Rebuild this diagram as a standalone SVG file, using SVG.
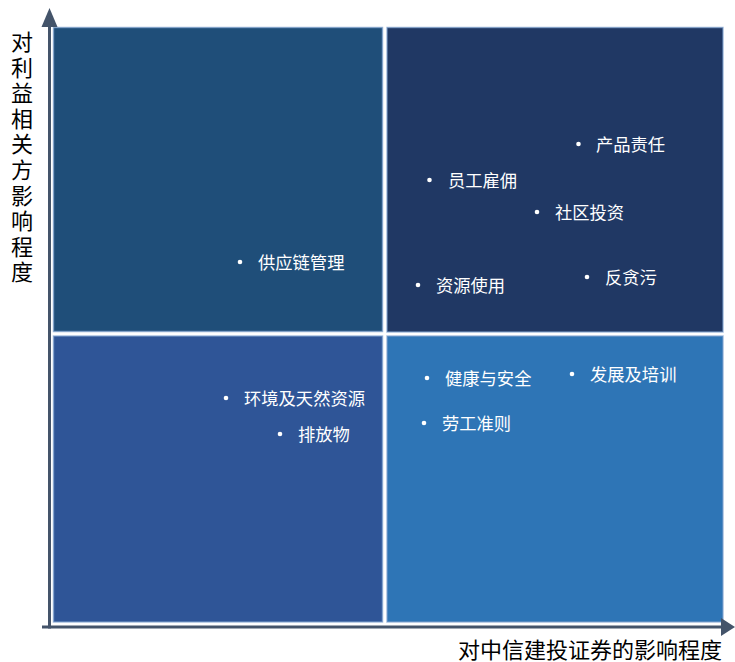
<svg xmlns="http://www.w3.org/2000/svg" width="735" height="662" viewBox="0 0 735 662">
<style>
.q{stroke:#7fa3cf;stroke-opacity:0.7;stroke-width:1.5}
.lbl{font-family:"Noto Sans CJK SC","Noto Sans",sans-serif;font-size:17.3px;fill:#ffffff;dominant-baseline:central}
.ax{font-family:"Noto Sans CJK SC","Noto Sans",sans-serif;font-size:22px;fill:#000000}
.dot{fill:#ffffff}
</style>
<rect width="735" height="662" fill="#ffffff"/>
<g id="quadrant-tl"><rect class="q" x="53.5" y="27.5" width="329" height="304" fill="#1F4E79"/>
<circle class="dot" cx="240" cy="262" r="2.3"/><text class="lbl" x="258" y="261">供应链管理</text></g>
<g id="quadrant-tr"><rect class="q" x="387" y="27.5" width="336" height="304.5" fill="#203864"/>
<circle class="dot" cx="578.5" cy="144" r="2.3"/><text class="lbl" x="596" y="143">产品责任</text>
<circle class="dot" cx="429.5" cy="180" r="2.3"/><text class="lbl" x="448" y="179">员工雇佣</text>
<circle class="dot" cx="537" cy="212" r="2.3"/><text class="lbl" x="555" y="211">社区投资</text>
<circle class="dot" cx="418" cy="285" r="2.3"/><text class="lbl" x="436" y="284">资源使用</text>
<circle class="dot" cx="587" cy="277" r="2.3"/><text class="lbl" x="605" y="276">反贪污</text></g>
<g id="quadrant-bl"><rect class="q" x="53.5" y="336" width="329" height="286" fill="#2F5597"/>
<circle class="dot" cx="226" cy="398" r="2.3"/><text class="lbl" x="244" y="397">环境及天然资源</text>
<circle class="dot" cx="280" cy="434" r="2.3"/><text class="lbl" x="298" y="433">排放物</text></g>
<g id="quadrant-br"><rect class="q" x="387" y="336" width="336" height="286" fill="#2E75B6"/>
<circle class="dot" cx="427" cy="378" r="2.3"/><text class="lbl" x="445" y="377">健康与安全</text>
<circle class="dot" cx="572" cy="374" r="2.3"/><text class="lbl" x="590" y="373">发展及培训</text>
<circle class="dot" cx="424" cy="423" r="2.3"/><text class="lbl" x="442" y="422">劳工准则</text></g>
<g id="connectors">
<line x1="49.5" y1="26" x2="49.5" y2="628.5" stroke="#44546A" stroke-width="3"/>
<polygon points="49.5,8 41.5,27 57.5,27" fill="#44546A"/>
<line x1="42" y1="627" x2="722" y2="627" stroke="#44546A" stroke-width="3"/>
<polygon points="735,627 721,618 721,636" fill="#44546A"/>
</g>
<g id="axis-labels">
<text class="ax" text-anchor="middle"><tspan x="22" y="50">对</tspan><tspan x="22" dy="25.6">利</tspan><tspan x="22" dy="25.6">益</tspan><tspan x="22" dy="25.6">相</tspan><tspan x="22" dy="25.6">关</tspan><tspan x="22" dy="25.6">方</tspan><tspan x="22" dy="25.6">影</tspan><tspan x="22" dy="25.6">响</tspan><tspan x="22" dy="25.6">程</tspan><tspan x="22" dy="25.6">度</tspan></text>
<text class="ax" x="722" y="658" text-anchor="end">对中信建投证券的影响程度</text>
</g>
</svg>
